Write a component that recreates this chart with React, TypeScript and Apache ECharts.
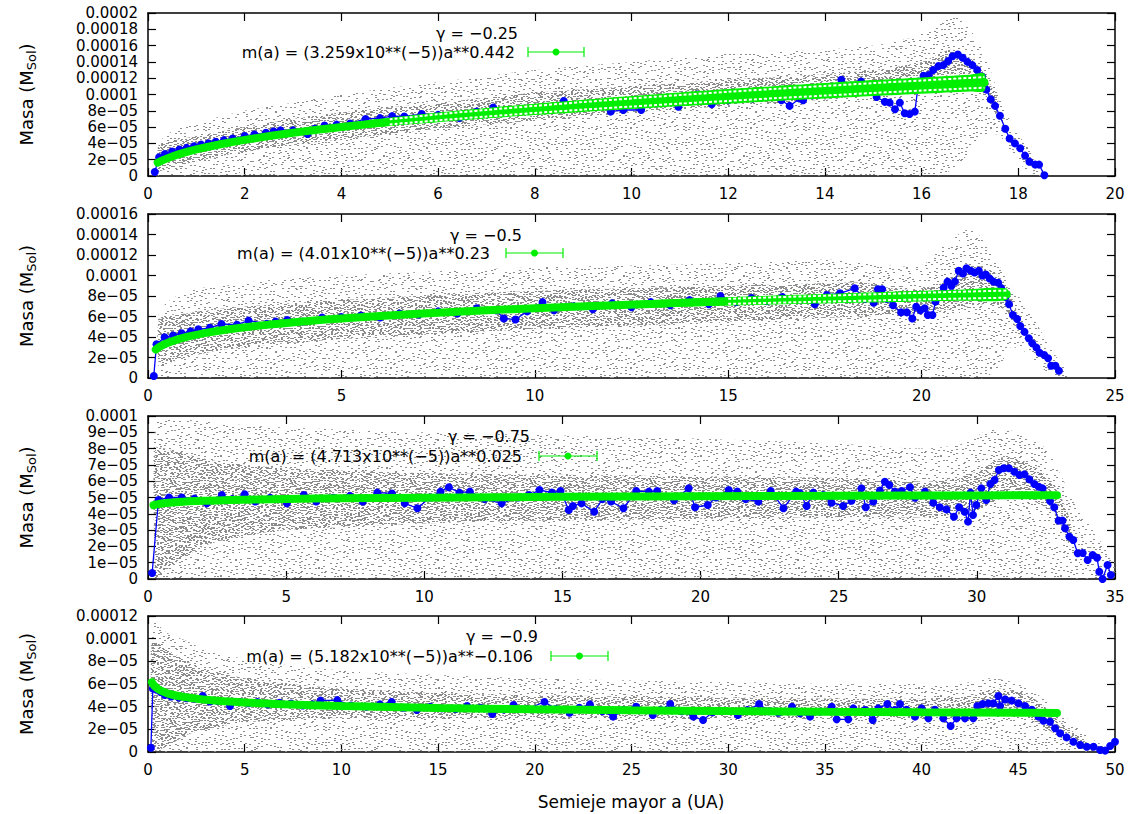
import React, { useEffect, useRef } from "react";
import * as echarts from "echarts";

// All mass values are in units of 1e-5 M_Sol (axis labels convert them back).
const FONT = "DejaVu Sans";
const GREEN = "#00ee00";
const BLUE = "#0000ff";

// ---------- axes ----------
const xMaxes = [20, 25, 35, 50];
const xSteps = [2, 5, 5, 5];
const yMaxes = [20, 16, 10, 12];
const ySteps = [2, 2, 1, 2];

// ---------- key texts ----------
const gammaLabels = ["\u03b3 = \u22120.25", "\u03b3 = \u22120.5", "\u03b3 = \u22120.75", "\u03b3 = \u22120.9"];
const fitLabels = [
  "m(a) = (3.259x10**(\u22125))a**0.442",
  "m(a) = (4.01x10**(\u22125))a**0.23",
  "m(a) = (4.713x10**(\u22125))a**0.025",
  "m(a) = (5.182x10**(\u22125))a**\u22120.106",
];
const xTitle = "Semieje mayor a (UA)";

// ---------- panel 1 (gamma = -0.25) ----------
const p1Blue = [
  [0.14, 0.5], [0.23, 2.3], [0.35, 2.7], [0.5, 3.0], [0.65, 3.25], [0.8, 3.45], [0.95, 3.65], [1.1, 3.85], [1.25, 4.0], [1.4, 4.2],
  [1.57, 4.4], [1.75, 4.6], [2.0, 4.9], [2.2, 5.1], [2.44, 5.3], [2.6, 5.45], [2.74, 5.6], [3.0, 5.6], [3.3, 5.15], [3.45, 5.8],
  [3.65, 6.2], [3.9, 6.3], [4.18, 6.45], [4.5, 7.0], [4.8, 7.1], [5.05, 7.35], [5.3, 7.3], [5.66, 7.6], [6.0, 7.5], [6.44, 7.1],
  [6.8, 7.9], [7.14, 8.4], [7.5, 8.0], [7.83, 8.1], [8.2, 8.5], [8.6, 9.2], [8.9, 8.5], [9.14, 8.7], [9.35, 8.9], [9.57, 7.9],
  [9.83, 8.1], [10.2, 8.1], [10.5, 9.3], [10.7, 9.0], [10.97, 8.5], [11.2, 9.2], [11.36, 10.0], [11.66, 8.8], [12.0, 9.3], [12.3, 9.9],
  [12.5, 9.5], [12.8, 10.1], [13.1, 9.3], [13.27, 8.6], [13.48, 9.5], [13.55, 9.3], [13.75, 9.9], [13.96, 10.8], [14.17, 10.1], [14.34, 11.8],
  [14.5, 11.0], [14.75, 11.6], [14.9, 10.8], [15.07, 9.7], [15.24, 9.1], [15.34, 9.0], [15.45, 8.2], [15.55, 9.0], [15.65, 7.7], [15.75, 7.6],
  [15.86, 7.9], [15.94, 11.6], [16.04, 12.3], [16.15, 12.4], [16.24, 13.0], [16.35, 13.5], [16.45, 13.6], [16.55, 14.1], [16.64, 14.7], [16.75, 14.9],
  [16.85, 14.5], [16.95, 14.0], [17.05, 13.6], [17.15, 13.0], [17.25, 12.2], [17.34, 10.6], [17.43, 9.4], [17.52, 8.6], [17.62, 7.4], [17.73, 5.8],
  [17.82, 4.6], [17.93, 4.0], [18.04, 3.4], [18.14, 2.5], [18.23, 1.75], [18.35, 1.4], [18.43, 1.4], [18.54, 0.1],
];
// [a, m, error]
const p1Fit = [
  [0.2, 1.65, 0], [0.3, 1.91, 0], [0.5, 2.4, 0], [0.75, 2.87, 0.1], [1, 3.26, 0.15], [1.5, 3.9, 0.2], [2, 4.43, 0.25], [3, 5.3, 0.3],
  [4, 6.01, 0.4], [5, 6.64, 0.5], [6, 7.2, 0.6], [7, 7.7, 0.65], [8, 8.17, 0.7], [9, 8.61, 0.75], [10, 9.02, 0.8], [11, 9.41, 0.85],
  [12, 9.77, 0.9], [13, 10.13, 0.92], [14, 10.46, 0.95], [15, 10.79, 0.98], [16, 11.1, 1.0], [17, 11.4, 1.03], [17.3, 11.49, 1.05],
];
// cloud envelopes [a, low, high]
const p1Sparse = [
  [0.2, 0, 0], [0.22, 0, 4], [0.5, 0, 5.5], [1, 0, 6.5], [2, 0, 8], [3, 0, 9], [4, 0, 10], [5, 0, 10.8], [6, 0, 11.5], [8, 0, 13],
  [10, 0, 14], [12, 0, 15], [14, 0, 15.5], [15, 0, 16], [15.8, 0, 17], [16.3, 0, 18.5], [16.7, 1, 19.5], [17.0, 3, 18], [17.3, 5, 15],
  [17.6, 5, 10], [17.9, 2.5, 6], [18.2, 0.5, 3.5], [18.5, 0, 1],
];
const p1Dense = [
  [0.2, 0, 0], [0.22, 0.5, 3.8], [0.5, 1.0, 4.3], [1, 1.8, 4.9], [2, 3.0, 6.0], [3, 3.8, 7.0], [4, 4.5, 7.8], [6, 5.8, 9.0],
  [8, 6.8, 10.2], [10, 7.8, 11.0], [12, 8.6, 11.8], [14, 9.4, 12.5], [15, 10.0, 13.0], [16, 10.6, 14.0], [16.6, 12.5, 15.5],
  [17.0, 12.0, 14.5], [17.3, 10.0, 12.5], [17.6, 7.0, 9.0],
];

// ---------- panel 2 (gamma = -0.5) ----------
const p2Blue = [
  [0.15, 0.2], [0.22, 3.3], [0.43, 3.97], [0.65, 4.15], [0.87, 4.36], [1.1, 4.55], [1.3, 4.75], [1.6, 4.9], [1.9, 5.27], [2.3, 5.2],
  [2.6, 5.6], [3.07, 5.3], [3.3, 5.5], [3.6, 5.65], [4.0, 5.5], [4.5, 5.9], [5.0, 5.95], [5.5, 6.1], [6.0, 5.9], [6.5, 6.3],
  [7.0, 6.2], [7.5, 6.5], [8.0, 6.3], [8.5, 6.8], [9.0, 6.6], [9.2, 5.8], [9.5, 5.7], [9.8, 6.5], [10.2, 7.4], [10.5, 6.6],
  [11.0, 7.0], [11.5, 6.7], [12.0, 7.3], [12.5, 6.9], [13.0, 7.4], [13.5, 7.1], [14.0, 7.6], [14.5, 7.2], [14.8, 8.0], [15.2, 7.4],
  [15.6, 7.8], [16.0, 7.5], [16.4, 7.9], [16.86, 7.6], [17.24, 7.2], [17.55, 8.1], [17.89, 8.26], [18.27, 8.75], [18.53, 7.7], [18.76, 7.35],
  [18.87, 8.65], [18.98, 8.65], [19.1, 7.7], [19.26, 7.1], [19.47, 6.4], [19.62, 6.4], [19.76, 5.8], [19.86, 6.95], [19.97, 6.6], [20.08, 6.8],
  [20.16, 6.15], [20.28, 6.15], [20.36, 7.45], [20.46, 8.1], [20.57, 8.8], [20.67, 9.4], [20.77, 9.0], [20.86, 9.4], [20.96, 10.47], [21.07, 10.2],
  [21.16, 10.7], [21.27, 10.47], [21.37, 10.3], [21.48, 10.47], [21.57, 10.0], [21.66, 10.1], [21.76, 9.7], [21.86, 9.4], [21.98, 9.3], [22.06, 8.75],
  [22.17, 7.9], [22.26, 7.2], [22.36, 6.15], [22.47, 5.75], [22.55, 5.07], [22.66, 4.5], [22.77, 3.87], [22.86, 3.38], [22.97, 2.96], [23.05, 2.47],
  [23.17, 2.24], [23.27, 1.92], [23.35, 1.2], [23.46, 1.2], [23.55, 0.7],
];
const p2Fit = [
  [0.2, 2.77, 0], [0.3, 3.04, 0], [0.5, 3.42, 0], [0.75, 3.75, 0], [1, 4.01, 0.05], [1.5, 4.4, 0.08], [2, 4.7, 0.1], [3, 5.16, 0.12],
  [4, 5.52, 0.15], [5, 5.81, 0.18], [7, 6.27, 0.22], [10, 6.81, 0.28], [13, 7.23, 0.35], [15, 7.48, 0.4], [17, 7.69, 0.45],
  [19, 7.89, 0.5], [20, 7.99, 0.52], [21, 8.08, 0.54], [22.2, 8.18, 0.56],
];
const p2Sparse = [
  [0.28, 0, 0], [0.3, 0, 6.5], [1, 0, 8.5], [2, 0, 9], [3, 0, 9.5], [5, 0, 10], [8, 0, 10.5], [10, 0, 10.8], [13, 0, 11], [15, 0, 11.2],
  [17, 0, 11.5], [18, 0, 11.5], [19, 0, 11], [20, 0, 11], [20.6, 0, 13], [21.2, 0, 14.5], [21.6, 0, 13.5], [22.0, 1, 11], [22.3, 3, 9],
  [22.7, 2.5, 7], [23.1, 1, 4.5], [23.5, 0, 2], [23.8, 0, 0.5],
];
const p2Dense = [
  [0.28, 0, 0], [0.3, 1.0, 5.8], [1, 2.0, 6.3], [2, 2.8, 6.8], [3, 3.2, 7.1], [5, 3.8, 7.6], [8, 4.4, 8.2], [10, 4.8, 8.5], [13, 5.2, 8.8],
  [15, 5.5, 9.0], [17, 5.8, 9.2], [18.5, 6.0, 9.3], [19.5, 6.2, 8.6], [20.5, 6.6, 9.2], [21.2, 7.0, 11], [21.8, 7.2, 10.5], [22.2, 6.5, 9],
  [22.5, 4.5, 6],
];

// ---------- panel 3 (gamma = -0.75) ----------
const p3Blue = [
  [0.15, 0.37], [0.38, 4.85], [0.76, 5.0], [1.22, 5.0], [1.68, 4.93], [2.13, 4.64], [2.67, 5.15], [3.05, 4.9], [3.5, 5.2], [3.88, 4.75],
  [4.42, 4.98], [5.03, 4.64], [5.64, 5.15], [6.09, 4.75], [6.7, 4.98], [7.31, 5.1], [7.77, 4.75], [8.3, 5.3], [8.83, 5.25], [9.29, 4.64],
  [9.75, 4.34], [10.2, 5.0], [10.59, 5.36], [10.89, 5.63], [11.27, 5.3], [11.65, 5.36], [12.19, 4.9], [12.8, 4.64], [13.4, 5.0], [13.79, 5.15],
  [14.17, 5.46], [14.62, 5.3], [14.93, 5.4], [15.23, 4.23], [15.38, 4.48], [15.69, 4.64], [16.15, 4.13], [16.45, 4.9], [16.76, 4.75], [17.21, 4.34],
  [17.67, 5.4], [18.13, 5.36], [18.43, 5.4], [19.04, 4.83], [19.57, 5.56], [19.8, 4.4], [20.26, 4.54], [20.56, 5.0], [21.02, 5.46], [21.33, 5.36],
  [21.63, 4.9], [22.09, 4.75], [22.54, 5.4], [23.0, 4.34], [23.46, 5.36], [23.6, 5.26], [23.84, 4.48], [24.08, 5.3], [24.44, 5.15], [24.74, 4.68],
  [25.16, 4.48], [25.46, 4.8], [25.82, 5.56], [25.98, 4.4], [26.25, 4.75], [26.49, 5.42], [26.67, 5.97], [26.83, 5.77], [27.03, 5.36], [27.28, 5.4],
  [27.58, 5.63], [27.76, 4.98], [28.12, 5.36], [28.42, 4.68], [28.66, 4.4], [28.9, 4.27], [29.17, 3.82], [29.36, 4.4], [29.56, 4.13], [29.68, 3.52],
  [29.77, 5.3], [29.86, 3.93], [29.98, 4.54], [30.16, 5.56], [30.34, 4.85], [30.49, 5.83], [30.64, 6.07], [30.8, 6.69], [30.97, 6.79], [31.16, 6.79],
  [31.36, 6.58], [31.54, 6.38], [31.72, 6.42], [31.9, 6.11], [32.08, 5.83], [32.24, 5.66], [32.38, 5.56], [32.65, 4.79], [32.8, 4.4], [32.96, 3.58],
  [33.1, 3.58], [33.19, 3.11], [33.35, 2.6], [33.49, 2.39], [33.65, 1.58], [33.83, 1.6], [34.01, 1.17], [34.19, 1.47], [34.35, 1.3], [34.43, 0.45],
  [34.55, 0.0], [34.73, 0.86], [34.85, 0.25],
];
const p3Fit = [
  [0.2, 4.53, 0], [0.3, 4.57, 0], [0.5, 4.63, 0], [1, 4.71, 0], [2, 4.8, 0], [3, 4.84, 0], [5, 4.91, 0], [7, 4.95, 0],
  [10, 4.99, 0], [15, 5.04, 0], [20, 5.08, 0], [25, 5.11, 0], [30, 5.13, 0], [32.9, 5.14, 0],
];
const p3Sparse = [
  [0.25, 0, 0], [0.27, 0, 9.5], [1, 0, 9.8], [3, 0, 9.5], [5, 0, 9.3], [10, 0, 9.0], [15, 0, 8.8], [20, 0, 8.6], [25, 0, 8.3],
  [28, 0, 8.0], [29.5, 0, 8.3], [30.5, 0, 9.2], [31.5, 0, 9.0], [32.5, 0, 8.0], [33, 0, 6.5], [33.6, 0, 4.5], [34.2, 0, 3],
  [34.8, 0, 1.5], [35, 0, 1],
];
const p3Dense = [
  [0.25, 0, 0], [0.27, 0, 8.0], [1, 1.0, 7.8], [2, 2.0, 7.4], [3, 2.5, 7.1], [5, 3.0, 6.8], [10, 3.4, 6.5], [15, 3.6, 6.4],
  [20, 3.7, 6.3], [25, 3.8, 6.2], [28.5, 3.8, 6.0], [30, 4.2, 6.6], [31, 5.0, 7.5], [32, 4.8, 7.0], [32.8, 4.0, 5.8], [33.4, 2.0, 3.5],
];

// ---------- panel 4 (gamma = -0.9) ----------
const p4Blue = [
  [0.15, 0.38], [0.25, 5.6], [0.45, 5.5], [0.65, 5.3], [0.87, 5.03], [1.2, 4.9], [1.6, 4.8], [2.0, 4.75], [2.4, 4.7], [2.83, 4.94],
  [3.2, 4.46], [3.6, 4.5], [4.24, 4.06], [4.8, 4.4], [5.2, 4.3], [5.66, 4.41], [6.2, 4.2], [6.8, 4.35], [7.4, 4.28], [8.0, 4.1],
  [8.5, 4.2], [8.92, 4.53], [9.79, 4.58], [10.5, 4.1], [11.3, 4.0], [12.0, 4.2], [12.6, 4.41], [13.2, 3.9], [13.9, 3.7], [14.6, 4.0],
  [15.2, 3.85], [15.9, 3.8], [16.5, 4.06], [17.2, 3.9], [17.8, 3.35], [18.4, 3.75], [18.9, 4.15], [19.6, 3.8], [20.5, 4.41], [21.1, 3.8],
  [21.8, 3.47], [22.3, 3.9], [22.85, 4.2], [23.5, 3.6], [24.05, 3.12], [24.6, 3.7], [25.24, 4.0], [26.1, 3.26], [26.5, 3.7], [27.0, 4.23],
  [27.6, 3.6], [28.2, 3.12], [28.7, 2.82], [29.2, 3.5], [29.6, 3.64], [30.5, 3.26], [31.0, 3.7], [31.6, 4.23], [32.1, 3.6], [32.6, 3.47],
  [33.3, 4.0], [33.71, 3.41], [34.23, 3.12], [34.75, 3.56], [35.35, 4.0], [35.61, 2.88], [36.21, 2.88], [36.47, 3.85], [37.07, 3.7], [37.47, 2.82],
  [37.76, 3.85], [38.23, 4.23], [38.62, 3.7], [38.88, 4.23], [39.23, 3.73], [39.66, 3.12], [40.0, 3.85], [40.35, 2.97], [40.69, 3.73], [41.12, 2.97],
  [41.5, 2.29], [41.81, 2.97], [42.24, 2.97], [42.67, 2.97], [42.88, 4.06], [43.16, 4.23], [43.45, 4.29], [43.71, 4.29], [43.97, 4.94], [44.06, 4.06],
  [44.32, 4.64], [44.66, 4.53], [45.01, 4.29], [45.35, 4.06], [45.7, 3.73], [46.04, 3.12], [46.3, 2.76], [46.64, 2.67], [46.9, 2.09], [47.16, 1.65],
  [47.5, 1.29], [47.85, 0.91], [48.2, 0.62], [48.54, 0.47], [48.89, 0.47], [49.23, 0.18], [49.49, 0.12], [49.75, 0.53], [50.0, 0.91],
];
const p4Fit = [
  [0.2, 6.15, 0], [0.3, 5.89, 0], [0.5, 5.58, 0], [0.75, 5.34, 0], [1, 5.18, 0], [1.5, 4.96, 0], [2, 4.82, 0], [3, 4.61, 0],
  [5, 4.37, 0], [7, 4.22, 0], [10, 4.06, 0], [15, 3.89, 0], [20, 3.77, 0], [25, 3.68, 0], [30, 3.61, 0], [35, 3.55, 0],
  [40, 3.5, 0], [45, 3.46, 0], [47, 3.45, 0],
];
const p4Sparse = [
  [0.2, 0, 0], [0.22, 0, 11.5], [1, 0, 10.5], [2, 0, 9.8], [3, 0, 9.0], [5, 0, 8.2], [8, 0, 7.5], [10, 0, 7.2], [15, 0, 6.8],
  [20, 0, 6.5], [25, 0, 6.3], [30, 0, 6.2], [35, 0, 6.0], [40, 0, 6.0], [42, 0, 6.0], [43.5, 0, 6.5], [45, 0, 6.0], [46.5, 0, 4.5],
  [47.5, 0, 3], [48.5, 0, 1.5], [49.5, 0, 0.5], [50, 0, 0.3],
];
const p4Dense = [
  [0.2, 0, 0], [0.22, 0, 9.8], [1, 0.5, 9.0], [2, 1.5, 8.0], [3, 2.0, 7.3], [5, 2.6, 6.5], [8, 2.9, 5.9], [10, 3.0, 5.6],
  [15, 3.0, 5.2], [20, 3.0, 5.0], [30, 3.0, 4.8], [40, 3.0, 4.7], [42.5, 3.0, 5.0], [44, 3.6, 5.6], [45.5, 3.0, 5.0],
  [46.5, 2.0, 3.8], [47.5, 1.0, 2.2], [48.5, 0.3, 1.0],
];

const panels = [
  { blue: p1Blue, fit: p1Fit, sparse: p1Sparse, dense: p1Dense, dashMin: 0.5 },
  { blue: p2Blue, fit: p2Fit, sparse: p2Sparse, dense: p2Dense, dashMin: 0.38 },
  { blue: p3Blue, fit: p3Fit, sparse: p3Sparse, dense: p3Dense, dashMin: 99 },
  { blue: p4Blue, fit: p4Fit, sparse: p4Sparse, dense: p4Dense, dashMin: 99 },
];

// ---------- layout (pixels) ----------
const GRIDS = [
  [148, 13, 967, 163],
  [148, 214, 967, 164],
  [148, 416, 967, 163],
  [148, 616, 967, 136],
];
// [gamma center x, gamma y, fit text right x, fit y, sample x1, sample x2]
const KEYPOS = [
  [477, 33, 515, 52, 528, 584],
  [486, 235, 490, 253, 506, 563],
  [489, 436, 522, 456, 539, 597],
  [502, 636, 533, 656, 551, 608],
];

// integer hash, used only to jitter the stipple texture of the gray cloud
function hash32(k: number) {
  let h = Math.imul(k ^ 0x9e3779b9, 0x85ebca6b);
  h ^= h >>> 13;
  h = Math.imul(h, 0xc2b2ae35);
  h ^= h >>> 16;
  return h >>> 0;
}

// jittered-grid stipple: one short dash per cell (with probability), plus an optional extra dash
function makeStipple(cell: number, prob: number, extra: number, size: number, color: string, salt: number) {
  const c = document.createElement("canvas");
  c.width = size;
  c.height = size;
  const ctx = c.getContext("2d") as CanvasRenderingContext2D;
  ctx.fillStyle = color;
  const n = size / cell;
  let idx = salt;
  for (let cy = 0; cy < n; cy++) {
    for (let cx = 0; cx < n; cx++) {
      const h = hash32(idx++);
      if (h % 1000 < prob * 1000) {
        ctx.fillRect(cx * cell + ((h >>> 10) % cell), cy * cell + ((h >>> 20) % cell), 2, 1);
      }
      const g = hash32(idx++ + 777777);
      if (g % 1000 < extra * 1000) {
        ctx.fillRect(cx * cell + ((g >>> 10) % cell), cy * cell + ((g >>> 20) % cell), 2, 1);
      }
    }
  }
  return { image: c, repeat: "repeat", imageWidth: size, imageHeight: size };
}

function fmtMass(v: number) {
  if (Math.abs(v) < 1e-9) return "0";
  if (v < 9.99) return `${Math.round(v)}e\u221205`;
  return String(Number((v * 1e-5).toFixed(6)));
}

function polySeries(i: number, rows: number[][], fill: any, z: number) {
  return {
    type: "custom",
    xAxisIndex: i,
    yAxisIndex: i,
    silent: true,
    z,
    data: [[rows[0][0], rows[0][1]]],
    renderItem: (_p: any, api: any) => {
      const pts: number[][] = [];
      for (let k = 0; k < rows.length; k++) pts.push(api.coord([rows[k][0], rows[k][2]]));
      for (let k = rows.length - 1; k >= 0; k--) pts.push(api.coord([rows[k][0], rows[k][1]]));
      return { type: "polygon", shape: { points: pts, smooth: 0.25 }, style: { fill } };
    },
  };
}

function buildOption() {
  const sparseFill = makeStipple(4, 0.75, 0, 120, "#8c8c8c", 11);
  const denseFill = makeStipple(3, 1, 0.45, 120, "#8c8c8c", 50021);
  const axisLine = { show: true, onZero: false, lineStyle: { color: "#000", width: 1.5 } };
  const axisTick = { show: true, inside: true, length: 8, lineStyle: { color: "#000", width: 1.2 } };
  const tickFont = { color: "#000", fontSize: 15, fontFamily: FONT };
  const grid = GRIDS.map((g) => ({ left: g[0], top: g[1], width: g[2], height: g[3] }));
  const xAxis: any[] = [];
  const yAxis: any[] = [];
  for (let i = 0; i < 4; i++) {
    xAxis.push({
      type: "value", gridIndex: i, min: 0, max: xMaxes[i], interval: xSteps[i], position: "bottom",
      axisLine, axisTick, splitLine: { show: false }, axisLabel: { ...tickFont, margin: 10 },
    });
    yAxis.push({
      type: "value", gridIndex: i, min: 0, max: yMaxes[i], interval: ySteps[i], position: "left",
      axisLine, axisTick, splitLine: { show: false }, axisLabel: { ...tickFont, margin: 10, formatter: fmtMass },
    });
  }
  for (let i = 0; i < 4; i++) {
    xAxis.push({
      type: "value", gridIndex: i, min: 0, max: xMaxes[i], interval: xSteps[i], position: "top",
      axisLine, axisTick, splitLine: { show: false }, axisLabel: { show: false },
    });
    yAxis.push({
      type: "value", gridIndex: i, min: 0, max: yMaxes[i], interval: ySteps[i], position: "right",
      axisLine, axisTick, splitLine: { show: false }, axisLabel: { show: false },
    });
  }

  const series: any[] = [];
  panels.forEach((p, i) => {
    series.push(polySeries(i, p.sparse, sparseFill, 1));
    series.push(polySeries(i, p.dense, denseFill, 1));
    series.push({
      type: "line", xAxisIndex: i, yAxisIndex: i, data: p.blue, symbol: "circle", symbolSize: 8,
      showAllSymbol: true, lineStyle: { color: BLUE, width: 1.3 }, itemStyle: { color: BLUE }, z: 3, silent: true,
    });
    const band = p.fit.map((r) => [r[0], r[1] - r[2], r[1] + r[2]]);
    if (p.fit.some((r) => r[2] > 0)) series.push(polySeries(i, band, GREEN, 4));
    series.push({
      type: "line", xAxisIndex: i, yAxisIndex: i, data: p.fit.map((r) => [r[0], r[1]]), smooth: 0.3,
      symbol: "none", lineStyle: { color: GREEN, width: 8, cap: "round" }, z: 4, silent: true,
    });
    const withBars = p.fit.filter((r) => r[2] >= p.dashMin);
    if (withBars.length > 1) {
      [1, -1].forEach((s) => {
        series.push({
          type: "line", xAxisIndex: i, yAxisIndex: i, data: withBars.map((r) => [r[0], r[1] + s * 0.62 * r[2]]),
          smooth: 0.3, symbol: "none", lineStyle: { color: "#ffffff", width: 2, type: [3, 2] }, z: 5, silent: true,
        });
      });
    }
  });

  const graphic: any[] = [];
  GRIDS.forEach((g, i) => {
    graphic.push({
      type: "text", x: 26, y: g[1] + g[3] / 2, rotation: Math.PI / 2, z: 100,
      style: {
        text: "Masa (M{s|Sol})", fill: "#000", fontSize: 18, fontFamily: FONT, align: "center", verticalAlign: "middle",
        lineHeight: 24, rich: { s: { fontSize: 13, fontFamily: FONT, verticalAlign: "bottom", lineHeight: 24 } },
      },
    });
    const k = KEYPOS[i];
    graphic.push({
      type: "text", x: k[0], y: k[1], z: 100,
      style: { text: gammaLabels[i], fill: "#000", fontSize: 16, fontFamily: FONT, align: "center", verticalAlign: "middle" },
    });
    graphic.push({
      type: "text", x: k[2], y: k[3], z: 100,
      style: { text: fitLabels[i], fill: "#000", fontSize: 16, fontFamily: FONT, align: "right", verticalAlign: "middle" },
    });
    const ks = { stroke: GREEN, lineWidth: 1.2 };
    graphic.push({ type: "line", z: 100, shape: { x1: k[4], y1: k[3], x2: k[5], y2: k[3] }, style: ks });
    graphic.push({ type: "line", z: 100, shape: { x1: k[4], y1: k[3] - 5, x2: k[4], y2: k[3] + 5 }, style: ks });
    graphic.push({ type: "line", z: 100, shape: { x1: k[5], y1: k[3] - 5, x2: k[5], y2: k[3] + 5 }, style: ks });
    graphic.push({ type: "circle", z: 100, shape: { cx: (k[4] + k[5]) / 2, cy: k[3], r: 3.5 }, style: { fill: GREEN } });
  });
  graphic.push({
    type: "text", x: 631, y: 802, z: 100,
    style: { text: xTitle, fill: "#000", fontSize: 17, fontFamily: FONT, align: "center", verticalAlign: "middle" },
  });

  return { animation: false, backgroundColor: "#ffffff", grid, xAxis, yAxis, series, graphic };
}

export default function App() {
  const ref = useRef<HTMLDivElement>(null);
  useEffect(() => {
    const chart = echarts.init(ref.current as HTMLDivElement, null, { renderer: "svg" });
    chart.setOption(buildOption() as any);
    return () => chart.dispose();
  }, []);
  return (
    <div
      ref={ref}
      style={{ position: "absolute", left: 0, top: 0, width: 1145, height: 814, background: "#fff" }}
    />
  );
}
